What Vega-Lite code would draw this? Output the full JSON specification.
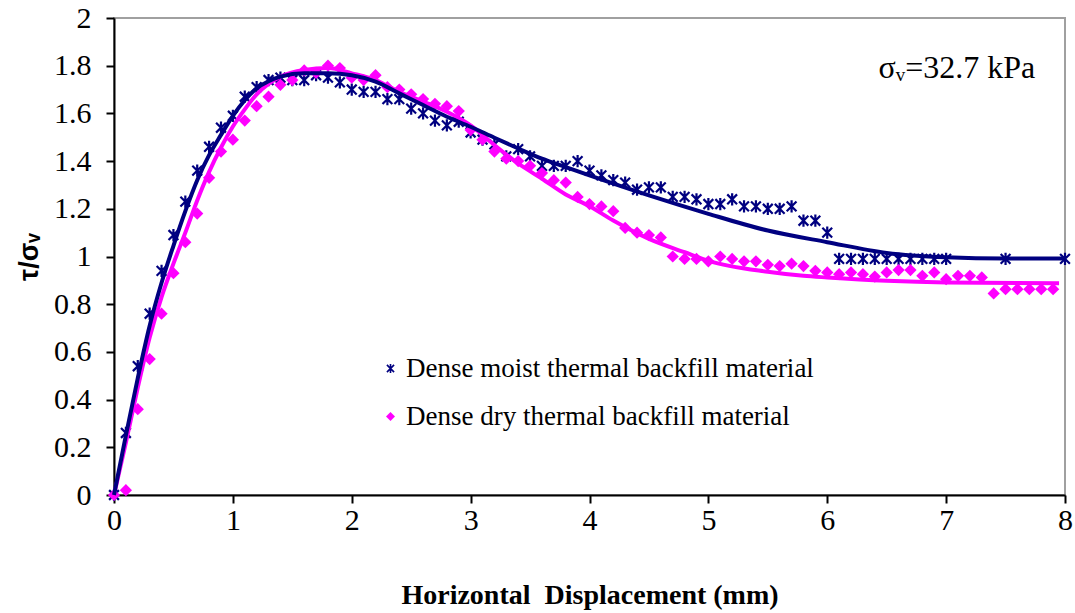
{
  "$schema": "https://vega.github.io/schema/vega-lite/v6.json",
  "width": 951,
  "height": 477,
  "autosize": "none",
  "padding": {"left": 114, "top": 18, "right": 10, "bottom": 118},
  "background": "white",
  "config": {
    "font": "Liberation Serif",
    "view": {"stroke": "#a0a0a0", "strokeWidth": 2},
    "axis": {
      "grid": false,
      "domainColor": "black",
      "domainWidth": 2,
      "tickColor": "black",
      "tickWidth": 2,
      "tickSize": 8,
      "labelFont": "Liberation Serif",
      "labelFontSize": 30,
      "labelColor": "black",
      "titleColor": "black",
      "labelFlush": false
    }
  },
  "datasets": {
    "points": [
      {"series": "Dense moist thermal backfill material", "x": 0, "y": 0},
      {"series": "Dense moist thermal backfill material", "x": 0.1, "y": 0.26},
      {"series": "Dense moist thermal backfill material", "x": 0.2, "y": 0.54},
      {"series": "Dense moist thermal backfill material", "x": 0.3, "y": 0.76},
      {"series": "Dense moist thermal backfill material", "x": 0.4, "y": 0.94},
      {"series": "Dense moist thermal backfill material", "x": 0.5, "y": 1.09},
      {"series": "Dense moist thermal backfill material", "x": 0.6, "y": 1.23},
      {"series": "Dense moist thermal backfill material", "x": 0.7, "y": 1.36},
      {"series": "Dense moist thermal backfill material", "x": 0.8, "y": 1.46},
      {"series": "Dense moist thermal backfill material", "x": 0.9, "y": 1.54},
      {"series": "Dense moist thermal backfill material", "x": 1.0, "y": 1.59},
      {"series": "Dense moist thermal backfill material", "x": 1.1, "y": 1.67},
      {"series": "Dense moist thermal backfill material", "x": 1.2, "y": 1.71},
      {"series": "Dense moist thermal backfill material", "x": 1.3, "y": 1.74},
      {"series": "Dense moist thermal backfill material", "x": 1.4, "y": 1.75},
      {"series": "Dense moist thermal backfill material", "x": 1.5, "y": 1.74},
      {"series": "Dense moist thermal backfill material", "x": 1.6, "y": 1.74},
      {"series": "Dense moist thermal backfill material", "x": 1.7, "y": 1.76},
      {"series": "Dense moist thermal backfill material", "x": 1.8, "y": 1.75},
      {"series": "Dense moist thermal backfill material", "x": 1.9, "y": 1.73},
      {"series": "Dense moist thermal backfill material", "x": 2.0, "y": 1.70},
      {"series": "Dense moist thermal backfill material", "x": 2.1, "y": 1.69},
      {"series": "Dense moist thermal backfill material", "x": 2.2, "y": 1.69},
      {"series": "Dense moist thermal backfill material", "x": 2.3, "y": 1.66},
      {"series": "Dense moist thermal backfill material", "x": 2.4, "y": 1.66},
      {"series": "Dense moist thermal backfill material", "x": 2.5, "y": 1.62},
      {"series": "Dense moist thermal backfill material", "x": 2.6, "y": 1.60},
      {"series": "Dense moist thermal backfill material", "x": 2.7, "y": 1.57},
      {"series": "Dense moist thermal backfill material", "x": 2.8, "y": 1.55},
      {"series": "Dense moist thermal backfill material", "x": 2.9, "y": 1.565},
      {"series": "Dense moist thermal backfill material", "x": 3.0, "y": 1.52},
      {"series": "Dense moist thermal backfill material", "x": 3.1, "y": 1.49},
      {"series": "Dense moist thermal backfill material", "x": 3.2, "y": 1.47},
      {"series": "Dense moist thermal backfill material", "x": 3.3, "y": 1.42},
      {"series": "Dense moist thermal backfill material", "x": 3.4, "y": 1.45},
      {"series": "Dense moist thermal backfill material", "x": 3.5, "y": 1.42},
      {"series": "Dense moist thermal backfill material", "x": 3.6, "y": 1.38},
      {"series": "Dense moist thermal backfill material", "x": 3.7, "y": 1.38},
      {"series": "Dense moist thermal backfill material", "x": 3.8, "y": 1.38},
      {"series": "Dense moist thermal backfill material", "x": 3.9, "y": 1.40},
      {"series": "Dense moist thermal backfill material", "x": 4.0, "y": 1.36},
      {"series": "Dense moist thermal backfill material", "x": 4.1, "y": 1.34},
      {"series": "Dense moist thermal backfill material", "x": 4.2, "y": 1.32},
      {"series": "Dense moist thermal backfill material", "x": 4.3, "y": 1.31},
      {"series": "Dense moist thermal backfill material", "x": 4.4, "y": 1.28},
      {"series": "Dense moist thermal backfill material", "x": 4.5, "y": 1.29},
      {"series": "Dense moist thermal backfill material", "x": 4.6, "y": 1.29},
      {"series": "Dense moist thermal backfill material", "x": 4.7, "y": 1.25},
      {"series": "Dense moist thermal backfill material", "x": 4.8, "y": 1.25},
      {"series": "Dense moist thermal backfill material", "x": 4.9, "y": 1.24},
      {"series": "Dense moist thermal backfill material", "x": 5.0, "y": 1.22},
      {"series": "Dense moist thermal backfill material", "x": 5.1, "y": 1.22},
      {"series": "Dense moist thermal backfill material", "x": 5.2, "y": 1.24},
      {"series": "Dense moist thermal backfill material", "x": 5.3, "y": 1.21},
      {"series": "Dense moist thermal backfill material", "x": 5.4, "y": 1.21},
      {"series": "Dense moist thermal backfill material", "x": 5.5, "y": 1.20},
      {"series": "Dense moist thermal backfill material", "x": 5.6, "y": 1.20},
      {"series": "Dense moist thermal backfill material", "x": 5.7, "y": 1.21},
      {"series": "Dense moist thermal backfill material", "x": 5.8, "y": 1.15},
      {"series": "Dense moist thermal backfill material", "x": 5.9, "y": 1.15},
      {"series": "Dense moist thermal backfill material", "x": 6.0, "y": 1.10},
      {"series": "Dense moist thermal backfill material", "x": 6.1, "y": 0.99},
      {"series": "Dense moist thermal backfill material", "x": 6.2, "y": 0.99},
      {"series": "Dense moist thermal backfill material", "x": 6.3, "y": 0.99},
      {"series": "Dense moist thermal backfill material", "x": 6.4, "y": 0.99},
      {"series": "Dense moist thermal backfill material", "x": 6.5, "y": 0.99},
      {"series": "Dense moist thermal backfill material", "x": 6.6, "y": 0.99},
      {"series": "Dense moist thermal backfill material", "x": 6.7, "y": 0.99},
      {"series": "Dense moist thermal backfill material", "x": 6.8, "y": 0.99},
      {"series": "Dense moist thermal backfill material", "x": 6.9, "y": 0.99},
      {"series": "Dense moist thermal backfill material", "x": 7.0, "y": 0.99},
      {"series": "Dense moist thermal backfill material", "x": 7.5, "y": 0.99},
      {"series": "Dense moist thermal backfill material", "x": 8.0, "y": 0.99},
      {"series": "Dense dry thermal backfill material", "x": 0, "y": 0},
      {"series": "Dense dry thermal backfill material", "x": 0.1, "y": 0.02},
      {"series": "Dense dry thermal backfill material", "x": 0.2, "y": 0.36},
      {"series": "Dense dry thermal backfill material", "x": 0.3, "y": 0.57},
      {"series": "Dense dry thermal backfill material", "x": 0.4, "y": 0.76},
      {"series": "Dense dry thermal backfill material", "x": 0.5, "y": 0.93},
      {"series": "Dense dry thermal backfill material", "x": 0.6, "y": 1.06},
      {"series": "Dense dry thermal backfill material", "x": 0.7, "y": 1.18},
      {"series": "Dense dry thermal backfill material", "x": 0.8, "y": 1.33},
      {"series": "Dense dry thermal backfill material", "x": 0.9, "y": 1.44},
      {"series": "Dense dry thermal backfill material", "x": 1.0, "y": 1.49},
      {"series": "Dense dry thermal backfill material", "x": 1.1, "y": 1.57},
      {"series": "Dense dry thermal backfill material", "x": 1.2, "y": 1.63},
      {"series": "Dense dry thermal backfill material", "x": 1.3, "y": 1.67},
      {"series": "Dense dry thermal backfill material", "x": 1.4, "y": 1.72},
      {"series": "Dense dry thermal backfill material", "x": 1.5, "y": 1.74},
      {"series": "Dense dry thermal backfill material", "x": 1.6, "y": 1.78},
      {"series": "Dense dry thermal backfill material", "x": 1.7, "y": 1.77},
      {"series": "Dense dry thermal backfill material", "x": 1.8, "y": 1.80},
      {"series": "Dense dry thermal backfill material", "x": 1.9, "y": 1.79},
      {"series": "Dense dry thermal backfill material", "x": 2.0, "y": 1.75},
      {"series": "Dense dry thermal backfill material", "x": 2.1, "y": 1.74},
      {"series": "Dense dry thermal backfill material", "x": 2.2, "y": 1.76},
      {"series": "Dense dry thermal backfill material", "x": 2.3, "y": 1.71},
      {"series": "Dense dry thermal backfill material", "x": 2.4, "y": 1.70},
      {"series": "Dense dry thermal backfill material", "x": 2.5, "y": 1.68},
      {"series": "Dense dry thermal backfill material", "x": 2.6, "y": 1.66},
      {"series": "Dense dry thermal backfill material", "x": 2.7, "y": 1.64},
      {"series": "Dense dry thermal backfill material", "x": 2.8, "y": 1.63},
      {"series": "Dense dry thermal backfill material", "x": 2.9, "y": 1.61},
      {"series": "Dense dry thermal backfill material", "x": 3.0, "y": 1.53},
      {"series": "Dense dry thermal backfill material", "x": 3.1, "y": 1.49},
      {"series": "Dense dry thermal backfill material", "x": 3.2, "y": 1.44},
      {"series": "Dense dry thermal backfill material", "x": 3.3, "y": 1.41},
      {"series": "Dense dry thermal backfill material", "x": 3.4, "y": 1.40},
      {"series": "Dense dry thermal backfill material", "x": 3.5, "y": 1.38},
      {"series": "Dense dry thermal backfill material", "x": 3.6, "y": 1.35},
      {"series": "Dense dry thermal backfill material", "x": 3.7, "y": 1.32},
      {"series": "Dense dry thermal backfill material", "x": 3.8, "y": 1.31},
      {"series": "Dense dry thermal backfill material", "x": 3.9, "y": 1.25},
      {"series": "Dense dry thermal backfill material", "x": 4.0, "y": 1.22},
      {"series": "Dense dry thermal backfill material", "x": 4.1, "y": 1.21},
      {"series": "Dense dry thermal backfill material", "x": 4.2, "y": 1.19},
      {"series": "Dense dry thermal backfill material", "x": 4.3, "y": 1.12},
      {"series": "Dense dry thermal backfill material", "x": 4.4, "y": 1.10},
      {"series": "Dense dry thermal backfill material", "x": 4.5, "y": 1.09},
      {"series": "Dense dry thermal backfill material", "x": 4.6, "y": 1.08},
      {"series": "Dense dry thermal backfill material", "x": 4.7, "y": 1.00},
      {"series": "Dense dry thermal backfill material", "x": 4.8, "y": 0.99},
      {"series": "Dense dry thermal backfill material", "x": 4.9, "y": 0.99},
      {"series": "Dense dry thermal backfill material", "x": 5.0, "y": 0.98},
      {"series": "Dense dry thermal backfill material", "x": 5.1, "y": 1.00},
      {"series": "Dense dry thermal backfill material", "x": 5.2, "y": 0.99},
      {"series": "Dense dry thermal backfill material", "x": 5.3, "y": 0.98},
      {"series": "Dense dry thermal backfill material", "x": 5.4, "y": 0.98},
      {"series": "Dense dry thermal backfill material", "x": 5.5, "y": 0.965},
      {"series": "Dense dry thermal backfill material", "x": 5.6, "y": 0.96},
      {"series": "Dense dry thermal backfill material", "x": 5.7, "y": 0.97},
      {"series": "Dense dry thermal backfill material", "x": 5.8, "y": 0.96},
      {"series": "Dense dry thermal backfill material", "x": 5.9, "y": 0.94},
      {"series": "Dense dry thermal backfill material", "x": 6.0, "y": 0.933},
      {"series": "Dense dry thermal backfill material", "x": 6.1, "y": 0.926},
      {"series": "Dense dry thermal backfill material", "x": 6.2, "y": 0.933},
      {"series": "Dense dry thermal backfill material", "x": 6.3, "y": 0.926},
      {"series": "Dense dry thermal backfill material", "x": 6.4, "y": 0.916},
      {"series": "Dense dry thermal backfill material", "x": 6.5, "y": 0.933},
      {"series": "Dense dry thermal backfill material", "x": 6.6, "y": 0.943},
      {"series": "Dense dry thermal backfill material", "x": 6.7, "y": 0.943},
      {"series": "Dense dry thermal backfill material", "x": 6.8, "y": 0.919},
      {"series": "Dense dry thermal backfill material", "x": 6.9, "y": 0.933},
      {"series": "Dense dry thermal backfill material", "x": 7.0, "y": 0.905},
      {"series": "Dense dry thermal backfill material", "x": 7.1, "y": 0.919},
      {"series": "Dense dry thermal backfill material", "x": 7.2, "y": 0.919},
      {"series": "Dense dry thermal backfill material", "x": 7.3, "y": 0.912},
      {"series": "Dense dry thermal backfill material", "x": 7.4, "y": 0.845},
      {"series": "Dense dry thermal backfill material", "x": 7.5, "y": 0.863},
      {"series": "Dense dry thermal backfill material", "x": 7.6, "y": 0.863},
      {"series": "Dense dry thermal backfill material", "x": 7.7, "y": 0.863},
      {"series": "Dense dry thermal backfill material", "x": 7.8, "y": 0.863},
      {"series": "Dense dry thermal backfill material", "x": 7.9, "y": 0.863}
    ],
    "curves": [
      {"curve": "moist", "x": 0, "y": 0},
      {"curve": "moist", "x": 0.1, "y": 0.25},
      {"curve": "moist", "x": 0.2, "y": 0.49},
      {"curve": "moist", "x": 0.3, "y": 0.71},
      {"curve": "moist", "x": 0.4, "y": 0.89},
      {"curve": "moist", "x": 0.5, "y": 1.045},
      {"curve": "moist", "x": 0.6, "y": 1.19},
      {"curve": "moist", "x": 0.7, "y": 1.32},
      {"curve": "moist", "x": 0.8, "y": 1.425},
      {"curve": "moist", "x": 0.9, "y": 1.51},
      {"curve": "moist", "x": 1.0, "y": 1.59},
      {"curve": "moist", "x": 1.1, "y": 1.655},
      {"curve": "moist", "x": 1.2, "y": 1.705},
      {"curve": "moist", "x": 1.3, "y": 1.735},
      {"curve": "moist", "x": 1.4, "y": 1.754},
      {"curve": "moist", "x": 1.6, "y": 1.768},
      {"curve": "moist", "x": 1.8, "y": 1.768},
      {"curve": "moist", "x": 2.0, "y": 1.76},
      {"curve": "moist", "x": 2.2, "y": 1.733},
      {"curve": "moist", "x": 2.4, "y": 1.684},
      {"curve": "moist", "x": 2.6, "y": 1.635},
      {"curve": "moist", "x": 2.8, "y": 1.586},
      {"curve": "moist", "x": 3.0, "y": 1.544},
      {"curve": "moist", "x": 3.2, "y": 1.498},
      {"curve": "moist", "x": 3.4, "y": 1.453},
      {"curve": "moist", "x": 3.6, "y": 1.41},
      {"curve": "moist", "x": 3.8, "y": 1.375},
      {"curve": "moist", "x": 4.0, "y": 1.34},
      {"curve": "moist", "x": 4.5, "y": 1.256},
      {"curve": "moist", "x": 5.0, "y": 1.179},
      {"curve": "moist", "x": 5.5, "y": 1.109},
      {"curve": "moist", "x": 6.0, "y": 1.06},
      {"curve": "moist", "x": 6.5, "y": 1.015},
      {"curve": "moist", "x": 7.0, "y": 0.997},
      {"curve": "moist", "x": 7.5, "y": 0.992},
      {"curve": "moist", "x": 8.0, "y": 0.992},
      {"curve": "dry", "x": 0, "y": 0},
      {"curve": "dry", "x": 0.1, "y": 0.22},
      {"curve": "dry", "x": 0.2, "y": 0.45},
      {"curve": "dry", "x": 0.3, "y": 0.66},
      {"curve": "dry", "x": 0.4, "y": 0.83},
      {"curve": "dry", "x": 0.5, "y": 0.97},
      {"curve": "dry", "x": 0.6, "y": 1.10},
      {"curve": "dry", "x": 0.7, "y": 1.235},
      {"curve": "dry", "x": 0.8, "y": 1.355},
      {"curve": "dry", "x": 0.9, "y": 1.457},
      {"curve": "dry", "x": 1.0, "y": 1.545},
      {"curve": "dry", "x": 1.1, "y": 1.617},
      {"curve": "dry", "x": 1.2, "y": 1.68},
      {"curve": "dry", "x": 1.3, "y": 1.724},
      {"curve": "dry", "x": 1.4, "y": 1.754},
      {"curve": "dry", "x": 1.6, "y": 1.782},
      {"curve": "dry", "x": 1.8, "y": 1.79},
      {"curve": "dry", "x": 2.0, "y": 1.768},
      {"curve": "dry", "x": 2.2, "y": 1.74},
      {"curve": "dry", "x": 2.4, "y": 1.69},
      {"curve": "dry", "x": 2.6, "y": 1.65},
      {"curve": "dry", "x": 2.8, "y": 1.607},
      {"curve": "dry", "x": 3.0, "y": 1.55},
      {"curve": "dry", "x": 3.2, "y": 1.467},
      {"curve": "dry", "x": 3.4, "y": 1.39},
      {"curve": "dry", "x": 3.6, "y": 1.326},
      {"curve": "dry", "x": 3.8, "y": 1.26},
      {"curve": "dry", "x": 4.0, "y": 1.211},
      {"curve": "dry", "x": 4.2, "y": 1.151},
      {"curve": "dry", "x": 4.5, "y": 1.074},
      {"curve": "dry", "x": 4.8, "y": 1.018},
      {"curve": "dry", "x": 5.0, "y": 0.982},
      {"curve": "dry", "x": 5.5, "y": 0.936},
      {"curve": "dry", "x": 5.8, "y": 0.919},
      {"curve": "dry", "x": 6.0, "y": 0.912},
      {"curve": "dry", "x": 6.5, "y": 0.898},
      {"curve": "dry", "x": 7.0, "y": 0.891},
      {"curve": "dry", "x": 7.95, "y": 0.888}
    ],
    "notes": [
      {"label": "σᵥ=32.7 kPa"}
    ]
  },
  "layer": [
    {
      "data": {"name": "points"},
      "mark": {"type": "point", "filled": true, "opacity": 1, "size": 150, "strokeWidth": 0},
      "encoding": {
        "x": {
          "field": "x", "type": "quantitative",
          "scale": {"domain": [0, 8], "nice": false},
          "axis": {
            "values": [0, 1, 2, 3, 4, 5, 6, 7, 8], "format": "d",
            "labelFont": "Liberation Serif", "labelFontSize": 30, "labelColor": "black",
            "labelPadding": 2, "labelFlush": false,
            "title": "Horizontal\u00a0 Displacement (mm)",
            "titleFont": "Liberation Serif", "titleFontSize": 28, "titleFontWeight": "bold",
            "titlePadding": 46
          }
        },
        "y": {
          "field": "y", "type": "quantitative",
          "scale": {"domain": [0, 2], "nice": false},
          "axis": {
            "values": [0, 0.2, 0.4, 0.6, 0.8, 1, 1.2, 1.4, 1.6, 1.8, 2], "format": "~g",
            "labelFont": "Liberation Serif", "labelFontSize": 30, "labelColor": "black",
            "labelPadding": 15, "labelFlush": false,
            "title": "τ/σᵥ",
            "titleFont": "Liberation Sans", "titleFontSize": 27, "titleFontWeight": "bold",
            "titlePadding": 10
          }
        },
        "color": {
          "field": "series", "type": "nominal",
          "scale": {
            "domain": ["Dense moist thermal backfill material", "Dense dry thermal backfill material"],
            "range": ["#000080", "#FF00FF"]
          },
          "legend": {
            "title": null, "orient": "none", "legendX": 263, "legendY": 337,
            "labelFont": "Liberation Serif", "labelFontSize": 27, "labelColor": "black",
            "symbolSize": 80, "labelOffset": 2, "rowPadding": 20, "padding": 0,
            "labelLimit": 600
          }
        },
        "shape": {
          "field": "series", "type": "nominal",
          "scale": {
            "domain": ["Dense moist thermal backfill material", "Dense dry thermal backfill material"],
            "range": ["M0.18,-1L0.18,1L-0.18,1L-0.18,-1ZM-0.673,-0.927L0.927,0.673L0.673,0.927L-0.927,-0.673ZM0.927,-0.673L-0.673,0.927L-0.927,0.673L0.673,-0.927Z", "diamond"]
          }
        }
      }
    },
    {
      "data": {"name": "curves"},
      "transform": [{"filter": "datum.curve == 'dry'"}],
      "mark": {"type": "line", "color": "#FF00FF", "strokeWidth": 4, "interpolate": "monotone"},
      "encoding": {
        "x": {"field": "x", "type": "quantitative"},
        "y": {"field": "y", "type": "quantitative"}
      }
    },
    {
      "data": {"name": "curves"},
      "transform": [{"filter": "datum.curve == 'moist'"}],
      "mark": {"type": "line", "color": "#000080", "strokeWidth": 4, "interpolate": "monotone"},
      "encoding": {
        "x": {"field": "x", "type": "quantitative"},
        "y": {"field": "y", "type": "quantitative"}
      }
    },
    {
      "data": {"name": "notes"},
      "mark": {"type": "text", "font": "Liberation Serif", "fontSize": 32, "color": "black", "align": "center", "baseline": "middle"},
      "encoding": {
        "x": {"datum": 7.09},
        "y": {"datum": 1.79},
        "text": {"field": "label"}
      }
    }
  ]
}
